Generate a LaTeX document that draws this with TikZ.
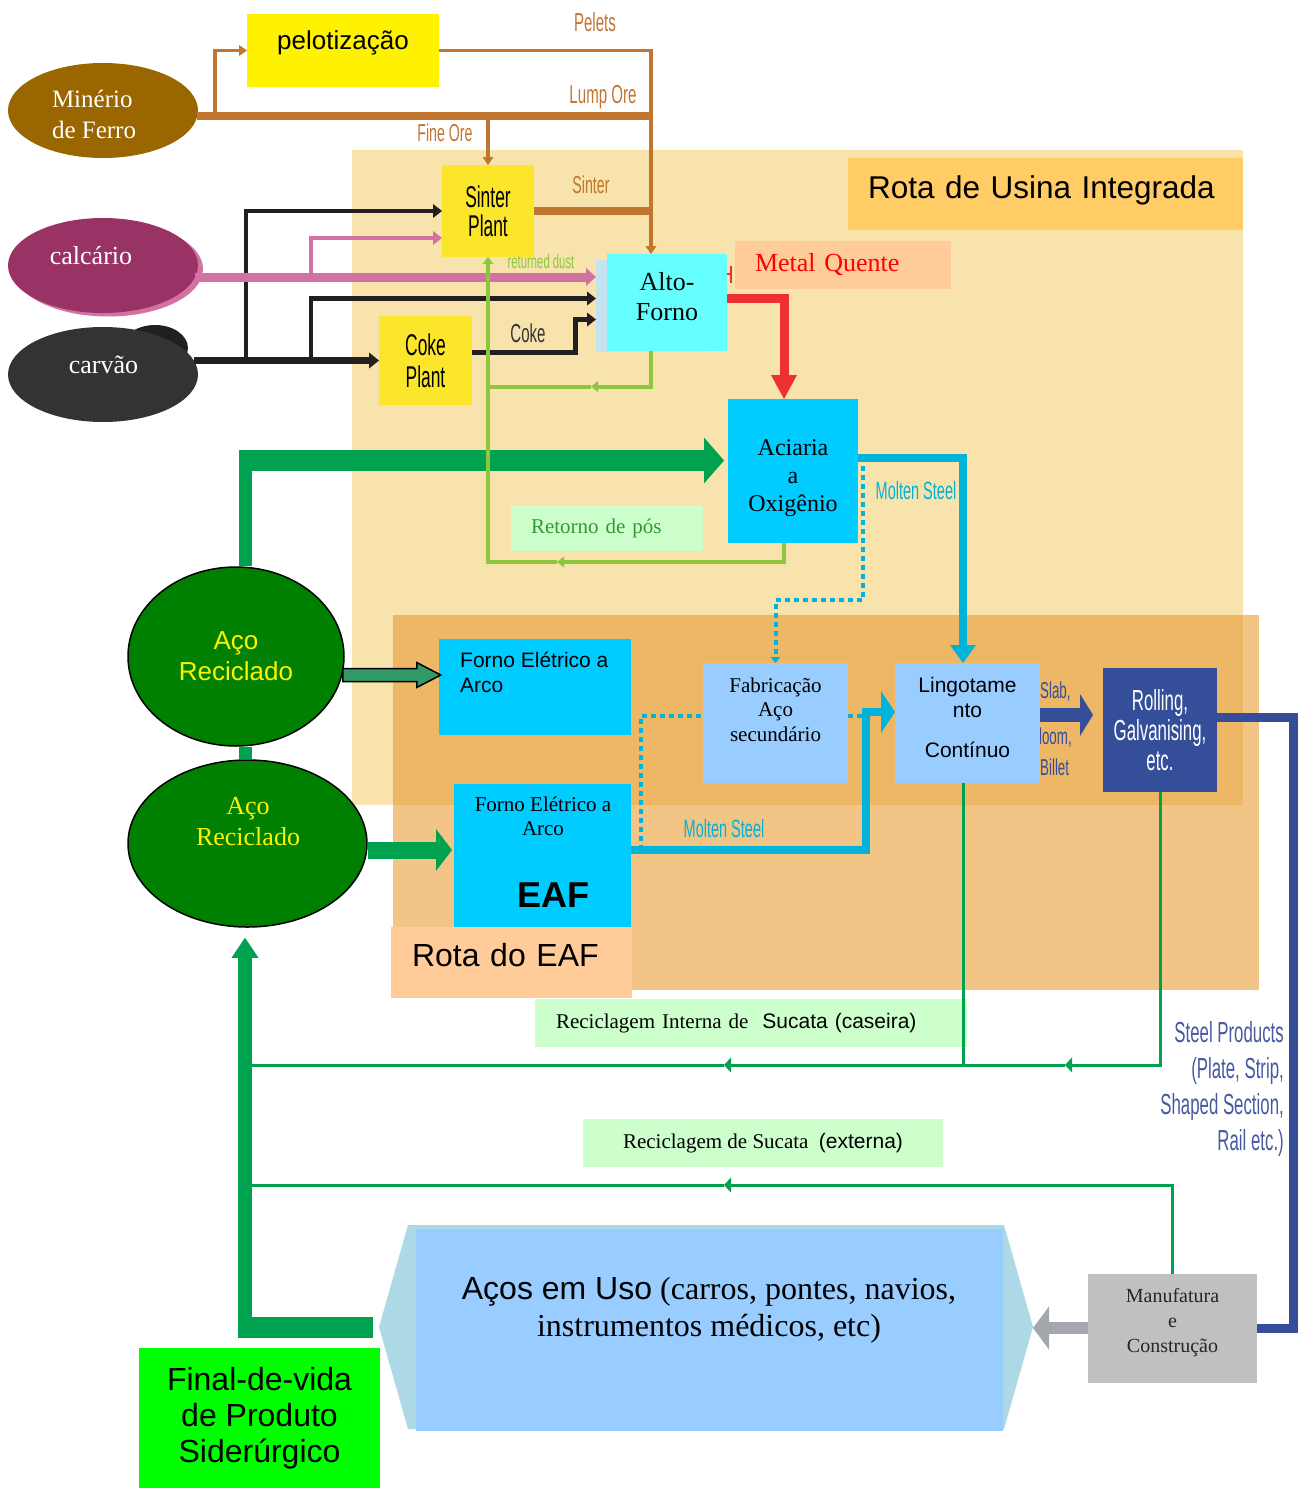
\documentclass[tikz,border=0pt]{standalone}
\usepackage{fontspec}
\usepackage{tikz}
\usetikzlibrary{positioning, shapes.geometric, arrows.meta}
\setmainfont{Liberation Serif}
\setsansfont{Liberation Sans}
\newfontfamily\condfont[FakeStretch=0.58]{Liberation Sans}

\definecolor{tanbg}{HTML}{F7E3AB}
\definecolor{eafbg}{HTML}{F2C586}
\definecolor{bothbg}{HTML}{EDB766}
\definecolor{routebox}{HTML}{FFCC66}
\definecolor{peach}{HTML}{FFCC99}
\definecolor{plantyellow}{HTML}{FCE62C}
\definecolor{oreline}{HTML}{C0762F}
\definecolor{coalline}{HTML}{231F20}
\definecolor{limeline}{HTML}{D272A2}
\definecolor{dustline}{HTML}{8DC63F}
\definecolor{hotred}{HTML}{EC3033}
\definecolor{steelcyan}{HTML}{00B3DA}
\definecolor{rollblue}{HTML}{344E9A}
\definecolor{scrapgreen}{HTML}{00A14F}
\definecolor{furncyan}{HTML}{00CCFF}
\definecolor{secblue}{HTML}{99CCFF}
\definecolor{mintbox}{HTML}{CCFFCC}
\definecolor{ellgreen}{HTML}{008000}
\definecolor{orebrown}{HTML}{996600}
\definecolor{limepurple}{HTML}{993366}
\definecolor{coalgray}{HTML}{333333}
\definecolor{hexblue}{HTML}{ADD8E6}
\definecolor{mfgray}{HTML}{C0C0C0}
\definecolor{arrowgray}{HTML}{A5A7AE}
\definecolor{prodblue}{HTML}{4759A1}
\definecolor{outgreen}{HTML}{339966}
\definecolor{dusttext}{HTML}{339933}
\definecolor{altoshade}{HTML}{C3E4EF}
\definecolor{altocyan}{HTML}{66FFFF}

\begin{document}
\begin{tikzpicture}[x=1pt, y=-1pt,
    box/.style={rectangle, inner sep=0pt, outer sep=0pt},
    blob/.style={ellipse, inner sep=0pt, outer sep=0pt, minimum width=190pt, minimum height=95pt},
    scrapblob/.style={ellipse, draw=black, line width=1.5pt, fill=ellgreen, inner sep=0pt},
    plant/.style={box, fill=plantyellow, align=center, font=\condfont\fontsize{30}{29}\selectfont},
    flowlabel/.style={inner sep=0pt, font=\condfont\fontsize{26}{28}\selectfont},
    orethick/.style={draw=oreline, line width=8pt},
    orethin/.style={draw=oreline, line width=3.5pt, -{Triangle[length=8pt, width=11pt, line width=0pt]}},
    coalthick/.style={draw=coalline, line width=6.5pt, -{Triangle[length=10pt, width=16pt, line width=0pt]}},
    coalthin/.style={draw=coalline, line width=4.5pt, -{Triangle[length=9pt, width=14pt, line width=0pt]}},
    limethick/.style={draw=limeline, line width=9pt, -{Triangle[length=10pt, width=18pt, line width=0pt]}},
    limethin/.style={draw=limeline, line width=4.5pt, -{Triangle[length=9pt, width=14pt, line width=0pt]}},
    hotline/.style={draw=hotred, line width=9pt, -{Triangle[length=24pt, width=26pt, line width=0pt]}},
    dust/.style={draw=dustline, line width=4pt},
    dusttip/.style={-{Triangle[length=7pt, width=11pt, line width=0pt]}},
    steelline/.style={draw=steelcyan, line width=8pt},
    steeldots/.style={draw=steelcyan, line width=4pt, dash pattern=on 5pt off 4pt},
    scrapline/.style={draw=scrapgreen, line width=3pt},
    scraptip/.style={-{Triangle[length=7pt, width=15pt, line width=0pt]}},
    recline/.style={draw=scrapgreen}
]
    \useasboundingbox (0,0) rectangle (1303,1488);

    % Route areas
    \fill[tanbg] (352,150) rectangle (1243,805);
    \fill[eafbg] (393,615) rectangle (1259,990);
    \fill[bothbg] (393,615) rectangle (1243,805);
    \node (usina) [box, fill=routebox, text width=355pt, inner xsep=20pt, align=left, text height=40.5pt, text depth=31.5pt, font=\sffamily\fontsize{31.5}{36}\selectfont] at (1045.5,194) {Rota de Usina Integrada};

    % Raw materials
    \node (minerio) [blob, fill=orebrown] at (103,110.5) {};
    \node (minertxt) [text=white, align=left, font=\fontsize{25}{31}\selectfont] at (94,114.5) {Minério\\de Ferro};
    \node (calcshadow) [blob, fill=limeline] at (108,269) {};
    \node (calc) [blob, fill=limepurple] at (103,265.5) {};
    \node (calctxt) [text=white, font=\fontsize{26}{30}\selectfont] at (91,256) {calcário};
    \node (coalshadow) [ellipse, fill=coalline, minimum width=66pt, minimum height=46pt] at (155,348) {};
    \node (carvao) [blob, fill=coalgray] at (103,374.5) {};
    \node (carvtxt) [text=white, font=\fontsize{26}{30}\selectfont] at (103.5,365) {carvão};

    % Agglomeration and coke
    \node (pelot) [box, fill=yellow, minimum width=192pt, text height=35pt, text depth=38pt, font=\sffamily\fontsize{26}{30}\selectfont] at (343,50.5) {pelotização};
    \node (sinter) [plant, minimum width=92pt, minimum height=92pt] at (488,211) {Sinter\\Plant};
    \node (coke) [plant, minimum width=93pt, minimum height=89pt, font=\condfont\fontsize{30}{32}\selectfont] at (425.5,360.5) {Coke\\Plant};

    % Blast furnace and converter
    \node (altoshadow) [box, fill=altoshade, minimum width=109pt, minimum height=92pt] at (650.5,306) {};
    \node (alto) [box, fill=altocyan, minimum width=120pt, minimum height=97pt] at (667,302.5) {};
    \node (altotxt) [align=center, font=\fontsize{26}{30}\selectfont] at (667,296.5) {Alto-\\Forno};
    \node (quente) [box, fill=peach, text width=176pt, inner xsep=20pt, minimum height=48pt, align=left, text=red, font=\fontsize{26}{30}\selectfont] at (843,265) {Metal Quente};
    \node (aciaria) [box, fill=furncyan, minimum width=130pt, minimum height=144pt] at (793,471) {};
    \node (aciatxt) [align=center, font=\fontsize{24}{28}\selectfont] at (793,478) {Aciaria\\a\\Oxigênio};
    \node (retorno) [box, fill=mintbox, text width=152pt, inner xsep=20pt, minimum height=46pt, align=left, text=dusttext, font=\fontsize{21}{24}\selectfont] at (607,528) {Retorno de pós};

    % EAF route
    \node (fea) [box, fill=furncyan, minimum width=192pt, minimum height=96pt] at (535,687) {};
    \node (featxt) [anchor=west, align=left, inner sep=0pt, font=\sffamily\fontsize{21}{25}\selectfont] at (460,672) {Forno Elétrico a\\Arco};
    \node (eaf) [box, fill=furncyan, minimum width=177pt, minimum height=143pt] at (542.5,855.5) {};
    \node (eaftxt) [align=center, font=\fontsize{21}{24}\selectfont] at (543,816) {Forno Elétrico a\\Arco};
    \node (eafname) [font=\sffamily\bfseries\fontsize{36}{40}\selectfont] at (553,895) {EAF};
    \node (rotaeaf) [box, fill=peach, text width=199pt, inner xsep=21pt, align=left, text height=39.5pt, text depth=31.5pt, font=\sffamily\fontsize{32}{36}\selectfont] at (511.5,962.5) {Rota do EAF};
    \node (fab) [box, fill=secblue, minimum width=145pt, minimum height=120pt] at (775.5,723) {};
    \node (fabtxt) [align=center, font=\fontsize{21}{24.5}\selectfont] at (775.5,709.5) {Fabricação\\Aço\\secundário};

    % Casting and rolling
    \node (bloomlbl) [flowlabel, anchor=west, text=rollblue, font=\condfont\fontsize{23}{26}\selectfont] at (1030,738) {Bloom,};
    \node (lingot) [box, fill=secblue, minimum width=145pt, minimum height=120pt] at (967.5,723) {};
    \node (lingtxt) [align=center, font=\sffamily\fontsize{21}{25}\selectfont] at (967.5,717.5) {Lingotame\\nto\\[15pt]Contínuo};
    \node (rolling) [box, fill=rollblue, minimum width=114pt, minimum height=124pt, text=white, align=center, font=\condfont\fontsize{29}{30}\selectfont] at (1160,730) {Rolling,\\Galvanising,\\etc.};

    % Recycled steel
    \node (scrapA) [scrapblob, minimum width=216pt, minimum height=179pt, text=yellow, align=center, font=\sffamily\fontsize{26}{31}\selectfont] at (236,656.5) {Aço\\Reciclado};
    \node (scrapB) [scrapblob, minimum width=239pt, minimum height=167pt] at (247.5,843.5) {};
    \node (scrapBtxt) [text=yellow, align=center, font=\fontsize{26}{31}\selectfont] at (248,822) {Aço\\Reciclado};

    % Scrap loops
    \node (internal) [box, fill=mintbox, text width=390pt, inner xsep=21pt, minimum height=48pt, align=left, font=\fontsize{21}{24}\selectfont] at (751,1023) {Reciclagem Interna de\ \ {\sffamily Sucata (caseira)}};
    \node (external) [box, fill=mintbox, minimum width=360pt, minimum height=48pt, font=\fontsize{21}{24}\selectfont] at (763,1143) {Reciclagem de Sucata\ \ {\sffamily (externa)}};

    % Steel in use
    \coordinate (usoL) at (379,1327);
    \coordinate (usoR) at (1033,1327);
    \fill[hexblue] (usoL) -- (408,1225) -- (1004,1225) -- (usoR) -- (1004,1429) -- (408,1429) -- cycle;
    \node (uso) [box, fill=secblue, minimum width=587pt, minimum height=202pt] at (709.5,1330) {};
    \node (usotxt) [align=center, font=\fontsize{32}{37}\selectfont] at (709,1310) {{\sffamily Aços em Uso} (carros, pontes, navios,\\instrumentos médicos, etc)};
    \node (manuf) [box, fill=mfgray, minimum width=169pt, minimum height=109pt] at (1172.5,1328) {};
    \node (manuftxt) [align=center, text=black!85, font=\fontsize{20}{25}\selectfont] at (1172.5,1323) {Manufatura\\e\\Construção};
    \node (fim) [box, fill=green, minimum width=241pt, minimum height=140pt, align=center, font=\sffamily\fontsize{32}{36}\selectfont] at (259.5,1418) {Final-de-vida\\de Produto\\Siderúrgico};

    % Helper points
    \coordinate (lumpend) at (651,116);
    \coordinate (pelotfork) at (215,116);
    \coordinate (coalforkA) at (246,360.5);
    \coordinate (coalforkB) at (311,360.5);
    \coordinate (pinkfork) at (311,277);
    \coordinate (pinkin) at ([yshift=29pt]altoshadow.west);
    \coordinate (coalin) at ([yshift=7.5pt]altoshadow.west);
    \coordinate (cokein) at ([yshift=-13.5pt]altoshadow.west);
    \coordinate (redx) at (784,0);
    \coordinate (castx) at (963,0);
    \coordinate (dotturn) at (0,600);
    \coordinate (eafbend) at (866,712);
    \coordinate (eafdot) at (641,850);
    \coordinate (blueturn) at (1293,0);
    \coordinate (gtop) at (245.5,460.5);
    \coordinate (gbot) at (245,1327);
    \coordinate (inscrap) at (0,1065);
    \coordinate (outscrap) at (0,1185);

    % Iron ore
    \draw[orethick] (minerio.-3 |- lumpend) -- (lumpend);
    \draw[orethin] (pelotfork) |- (pelot.west);
    \draw[orethin] (pelot.east) -| (alto.north -| lumpend);
    \draw[orethin] (sinter.north |- lumpend) -- (sinter.north);
    \draw[orethick] (sinter.east) -- (sinter.east -| lumpend);

    % Coal
    \draw[coalthick] (carvao.9 |- coke.west) -- (coke.west);
    \draw[coalthin] (coalforkA) |- (sinter.west);
    \draw[coalthin] (coalforkB) |- (coalin);
    \draw[coalthin, line width=5pt] ([yshift=8pt]coke.east) -- ++(103pt,0) |- (cokein);

    % Limestone
    \draw[limethick] (calc.-7 |- pinkin) -- (pinkin);
    \draw[limethin] (pinkfork) |- ([yshift=-27pt]sinter.west);

    % Hot metal
    \draw[hotline] ([yshift=4.5pt]alto.east) -| (aciaria.north -| redx);
    \draw[draw=hotred, line width=1.5pt] ([yshift=28.5pt]alto.east) -- ++(4pt,0) ++(0,8pt) -- ++(0,-17pt);

    % Recycled steel feeds
    \draw[recline, line width=13pt] (scrapA.north -| gtop) -- ([yshift=10.5pt]gtop);
    \draw[recline, line width=21pt, -{Triangle[length=20pt, width=46pt, line width=0pt]}, shorten >=4pt] ([xshift=-6.5pt]gtop) -- (gtop -| aciaria.west);
    \draw[recline, line width=13pt] (scrapB.north -| gtop) -- (scrapA.south -| gtop);
    \draw[recline, line width=17pt, -{Triangle[length=16pt, width=42pt, line width=0pt]}, shorten >=2pt] ([yshift=-6.5pt]scrapB.east) -- ([yshift=5.5pt]eaf.west);
    \draw[black, line width=1.5pt, fill=outgreen] ([xshift=-2pt, yshift=-12pt]scrapA.east) -- ++(74,0) -- ++(0,-6) -- ++(24,12.5) -- ++(-24,12.5) -- ++(0,-6) -- ++(-74,0) -- cycle;

    % Returned dust
    \draw[dust, dusttip] (alto.south -| lumpend) |- (591,386.5);
    \draw[dust] (591,386.5) -- (488,386.5);
    \draw[dust, dusttip] (aciaria.south -| redx) |- (557,562);
    \draw[dust, dusttip] (557,562) -| (sinter.south);

    % Molten steel
    \draw[steelline, -{Triangle[length=18pt, width=26pt, line width=0pt]}] ([yshift=13pt]aciaria.east) -| (lingot.north -| castx);
    \draw[steeldots, -{Triangle[length=6pt, width=10pt, line width=0pt]}] ([xshift=5pt, yshift=5pt]aciaria.east) |- (fab.north |- dotturn) -- (fab.north);
    \draw[steeldots] (eafdot) |- ([yshift=7pt]fab.west);
    \draw[steeldots] ([yshift=7pt]fab.east) -- ++(18pt,0);
    \draw[steelline, -{Triangle[length=14pt, width=42pt, line width=0pt]}] ([yshift=5.5pt]eaf.east) -| (eafbend) -- ([yshift=11pt]lingot.west);

    % Products
    \draw[draw=rollblue, line width=14pt, -{Triangle[length=13pt, width=42pt, line width=0pt]}] ([yshift=8pt]lingot.east) -- ([yshift=15pt, xshift=-10pt]rolling.west);
    \draw[draw=rollblue, line width=9pt] ([yshift=13pt]rolling.east) -| (manuf.east -| blueturn) -- (manuf.east);
    \draw[draw=arrowgray, line width=12pt, -{Triangle[length=16pt, width=43pt, line width=0pt]}] (manuf.west) -- (manuf.west -| usoR);

    % Scrap return
    \draw[scrapline] (lingot.south -| castx) -- (castx |- inscrap);
    \draw[scrapline, scraptip] (rolling.south) |- (1065,1065);
    \draw[scrapline, scraptip] (1065,1065) -- (724,1065);
    \draw[scrapline] (724,1065) -- (gbot |- inscrap);
    \draw[scrapline, scraptip] (manuf.north) |- (724,1185);
    \draw[scrapline] (724,1185) -- (gbot |- outscrap);
    \draw[recline, line width=21pt] ([xshift=-6pt]usoL) -- ([xshift=-7pt]gbot);
    \draw[recline, line width=14pt, -{Triangle[length=20pt, width=27pt, line width=0pt]}, shorten >=10pt] ([yshift=-10.5pt]gbot) -- (scrapB.south -| gbot);

    % Flow labels
    \node (pelletslbl) [flowlabel, text=oreline] at (595,22) {Pelets};
    \node (lumplbl) [flowlabel, text=oreline] at (603,97) {Lump Ore};
    \node (finelbl) [flowlabel, text=oreline, font=\condfont\fontsize{24.5}{28}\selectfont] at (445,133) {Fine Ore};
    \node (sinterlbl) [flowlabel, text=oreline, font=\condfont\fontsize{24.5}{28}\selectfont] at (591,185) {Sinter};
    \node (dustlbl) [flowlabel, text=dustline, font=\condfont\fontsize{19.5}{22}\selectfont] at (541,262) {returned dust};
    \node (cokelbl) [flowlabel, text=coalgray] at (528,333) {Coke};
    \node (molten1lbl) [flowlabel, text=steelcyan, font=\condfont\fontsize{25}{28}\selectfont] at (916,491) {Molten Steel};
    \node (molten2lbl) [flowlabel, text=steelcyan, font=\condfont\fontsize{25}{28}\selectfont] at (724,829) {Molten Steel};
    \node (slablbl) [flowlabel, anchor=west, text=rollblue, font=\condfont\fontsize{23}{26}\selectfont] at (1040,692) {Slab,};
    \node (billetlbl) [flowlabel, anchor=west, text=rollblue, font=\condfont\fontsize{23}{26}\selectfont] at (1040,767) {Billet};
    \node (products) [flowlabel, anchor=east, align=right, text=prodblue, font=\condfont\fontsize{29}{36}\selectfont] at (1284,1089) {Steel Products\\(Plate, Strip,\\Shaped Section,\\Rail etc.)};
\end{tikzpicture}
\end{document}
